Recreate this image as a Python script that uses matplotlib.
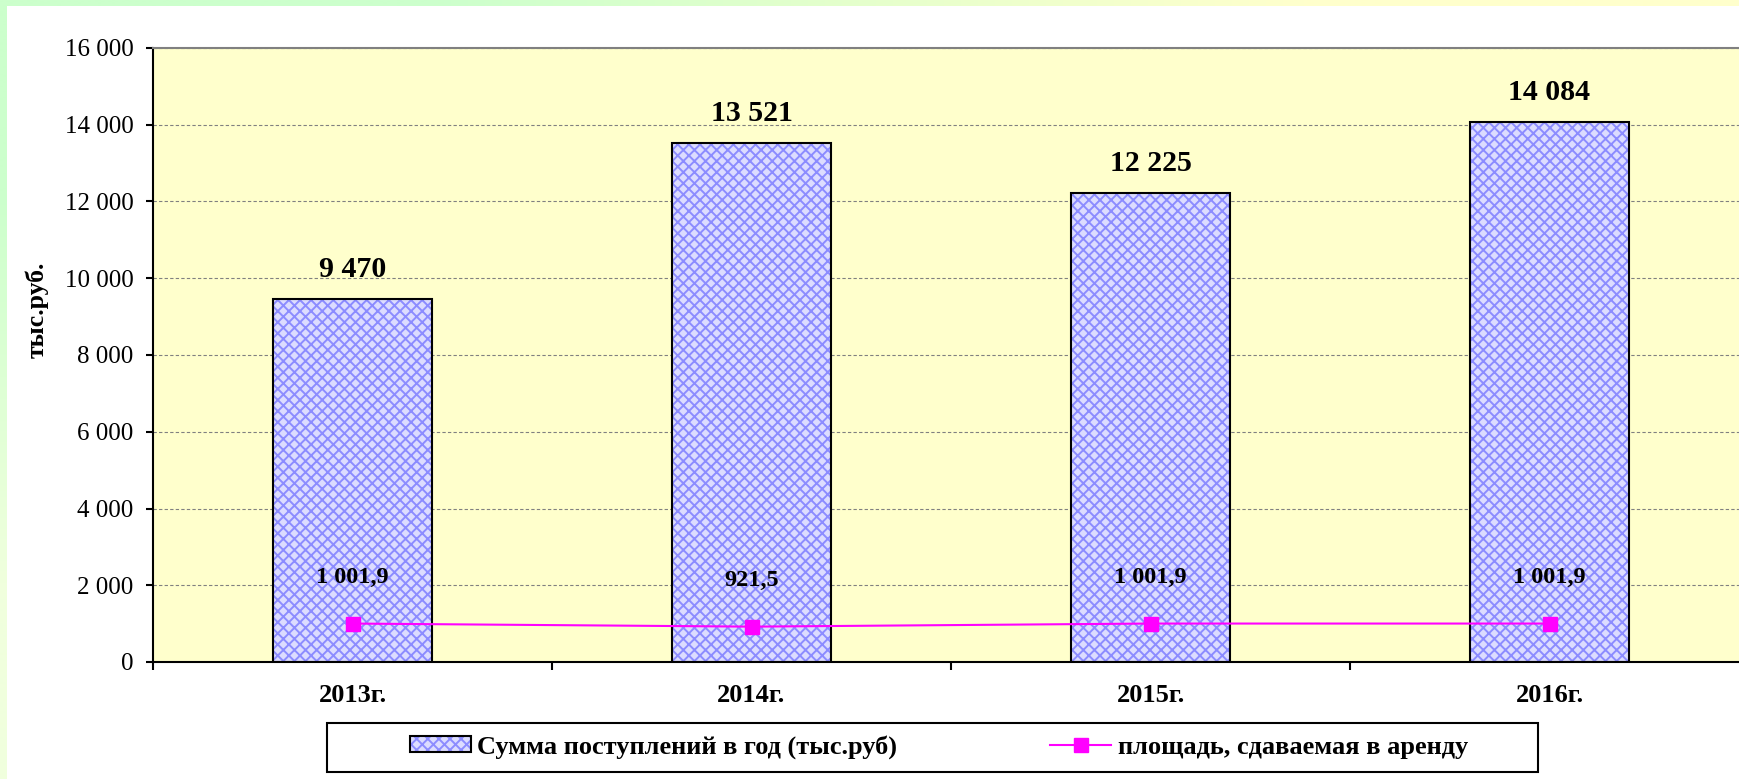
import numpy as np
import matplotlib.pyplot as plt
from matplotlib.patches import Rectangle, Patch
from matplotlib.lines import Line2D
from matplotlib.legend_handler import HandlerTuple

# data
years = ["2013г.", "2014г.", "2015г.", "2016г."]
income = [9470, 13521, 12225, 14084]
area = [1001.9, 921.5, 1001.9, 1001.9]
y_ticks = [0, 2000, 4000, 6000, 8000, 10000, 12000, 14000, 16000]

bar_name = "Сумма поступлений в год (тыс.руб)"
line_name = "площадь, сдаваемая в аренду"


def fmt(v, dec=0):
    s = f"{v:,.{dec}f}"
    return s.replace(",", " ").replace(".", ",")


plt.rcParams['font.family'] = ['Liberation Serif', 'DejaVu Serif']
plt.rcParams['hatch.linewidth'] = 1.4

W, H = 1739, 779
fig = plt.figure(figsize=(W / 100, H / 100), dpi=100)

# light green/yellow frame around the white chart area
bg = fig.add_axes([0, 0, 1, 1], zorder=-10)
grad = np.array([[[0xcc, 0xff, 0xcc], [0xff, 0xff, 0xcc]],
                 [[0xf0, 0xff, 0xdd], [0xff, 0xff, 0xdd]]]) / 255
bg.imshow(grad, extent=[0, 1, 0, 1], aspect='auto', interpolation='bilinear')
bg.axis('off')
fig.patches.append(Rectangle((7 / W, 0), 1, 1 - 6 / H, transform=fig.transFigure,
                             facecolor='white', edgecolor='none', zorder=-5))

# plot area (runs slightly past the right edge, like the original)
ax = fig.add_axes([153 / W, (H - 662) / H, 1596 / W, 614 / H])
ax.set_facecolor('#ffffcc')

face = '#dcdcff'
hatch_col = '#8c8cff'

x = np.arange(len(years))
ax.bar(x, income, width=0.4, color=face, edgecolor=hatch_col,
       hatch='xxx', linewidth=0, zorder=2)
ax.bar(x, income, width=0.4, fill=False, edgecolor='black', linewidth=1.5, zorder=3)

for xi, v in zip(x, income):
    ax.annotate(fmt(v), (xi, v), xytext=(0, 21), textcoords='offset points',
                ha='center', va='center', fontsize=21.5, fontweight='bold')

ax.plot(x, area, color='#ff00ff', linewidth=1.5, marker='s', markersize=9.5,
        zorder=4, clip_on=False)
for xi, v in zip(x, area):
    ax.annotate(fmt(v, 1), (xi, v), xytext=(0, 33), textcoords='offset points',
                ha='center', va='center', fontsize=17.5, fontweight='bold', zorder=5)

ax.set_xlim(-0.5, 3.5)
ax.set_ylim(0, 16000)
ax.set_yticks(y_ticks)
ax.set_yticklabels([fmt(t) for t in y_ticks], fontsize=18)
ax.set_xticks(x)
ax.set_xticklabels(years, fontsize=19, fontweight='bold')
ax.set_xticks(np.arange(-0.5, 4, 1), minor=True)
ax.tick_params(axis='x', which='major', length=0, pad=16)
ax.tick_params(axis='x', which='minor', length=6, width=1.5)
ax.tick_params(axis='y', length=5, width=1.5, pad=9)

ax.grid(axis='y', color='#808080', linestyle=(0, (3, 2)), linewidth=0.8, zorder=1)
ax.set_axisbelow(True)
for s in ['left', 'bottom']:
    ax.spines[s].set_linewidth(1.5)
ax.spines['top'].set_color('#808080')
ax.spines['top'].set_linewidth(1.5)
ax.spines['right'].set_visible(False)

fig.text(37 / W, (H - 310) / H, "тыс.руб.", rotation=90, ha='center', va='center',
         fontsize=18.5, fontweight='bold')

# legend
p_hatch = Patch(facecolor=face, edgecolor=hatch_col, hatch='xxx', linewidth=0)
p_edge = Patch(facecolor='none', edgecolor='black', linewidth=1.5)
l_handle = Line2D([], [], color='#ff00ff', linewidth=1.5, marker='s', markersize=9.5)
fig.legend([(p_hatch, p_edge), l_handle], [bar_name, line_name],
           handler_map={tuple: HandlerTuple(ndivide=1)},
           loc='center left', bbox_to_anchor=(410 / W, (H - 747) / H),
           ncol=2, frameon=False, borderpad=0, borderaxespad=0,
           handlelength=2.3, handleheight=0.55, handletextpad=0.25,
           columnspacing=5.8, prop={'weight': 'bold', 'size': 19})
fig.patches.append(Rectangle((327 / W, (H - 772) / H), 1211 / W, 49 / H,
                             transform=fig.transFigure, facecolor='none',
                             edgecolor='black', linewidth=1.5, zorder=1))

fig.savefig("out.png", dpi=100)
